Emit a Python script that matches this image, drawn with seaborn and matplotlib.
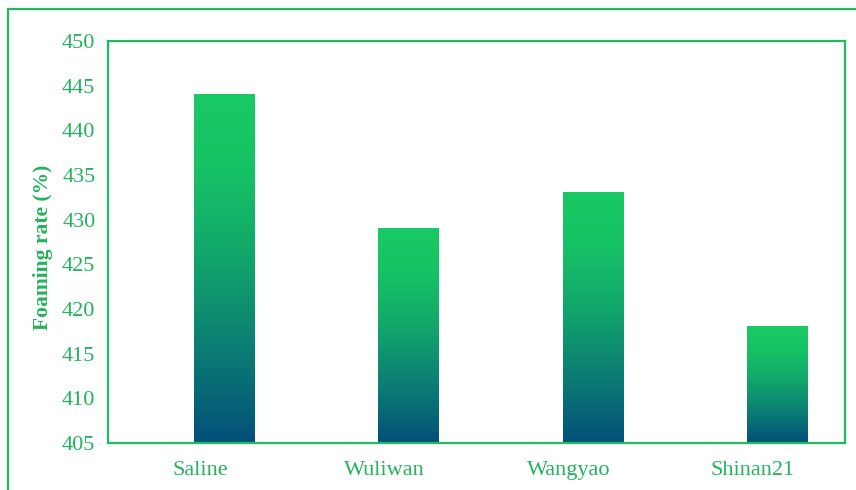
import numpy as np
import pandas as pd
import matplotlib
matplotlib.use("Agg")
import matplotlib.pyplot as plt
import seaborn as sns
from matplotlib.colors import LinearSegmentedColormap
from matplotlib.patches import Rectangle

samples = ["Saline", "Wuliwan", "Wangyao", "Shinan21"]
foaming_rate = [444, 429, 433, 418]
y_ticks = [405, 410, 415, 420, 425, 430, 435, 440, 445, 450]

GREEN = "#1fbb5f"
TEXT = "#22b35c"

sns.set_theme(style="white")
plt.rcParams["font.family"] = ["Liberation Serif", "DejaVu Serif"]

fig = plt.figure(figsize=(8.56, 4.90), dpi=100)
ax = fig.add_axes([108 / 856, 1 - 443 / 490, (845 - 108) / 856, (443 - 41) / 490])

df = pd.DataFrame({"sample": samples, "rate": foaming_rate})
sns.barplot(data=df, x="sample", y="rate", ax=ax, width=0.33, color=GREEN)

# vertical gradient: bright green at the top of each bar, deep blue at its base
cmap = LinearSegmentedColormap.from_list(
    "foam", [(0.0, "#035079"), (0.25, "#0b7a74"), (0.55, "#12a86b"),
             (0.8, "#17c365"), (1.0, "#19c964")])
grad = np.linspace(0, 1, 256).reshape(-1, 1)
offset = 0.133
for patch in ax.patches:
    x0 = patch.get_x() + offset
    w = patch.get_width()
    y0 = 405
    y1 = patch.get_y() + patch.get_height()
    patch.set_x(x0)
    patch.set_facecolor("none")
    patch.set_edgecolor("none")
    ax.imshow(grad, cmap=cmap, origin="lower", aspect="auto",
              extent=[x0, x0 + w, y0, y1], zorder=2, interpolation="bilinear")
ax.set_xlim(-0.5, 3.5)
ax.set_ylim(405, 450)

ax.set_yticks(y_ticks)
ax.set_yticklabels([str(t) for t in y_ticks])
ax.tick_params(axis="both", length=0, labelsize=16, labelcolor=TEXT)
ax.tick_params(axis="y", pad=9)
ax.tick_params(axis="x", pad=13)
ax.set_xlabel("")
ax.set_ylabel("Foaming rate (%)", fontsize=15.5, fontweight="bold", color=TEXT)
ax.yaxis.set_label_coords(-0.0745, 0.488)

for s in ax.spines.values():
    s.set_visible(True)
    s.set_color(GREEN)
    s.set_linewidth(1.6)

# outer frame around the figure
fig.patches.append(Rectangle((8 / 856, -0.05), 1.2, 1 - 9 / 490 + 0.05,
                             transform=fig.transFigure, fill=False,
                             edgecolor=GREEN, linewidth=1.6))

fig.savefig("out.png", dpi=100)
